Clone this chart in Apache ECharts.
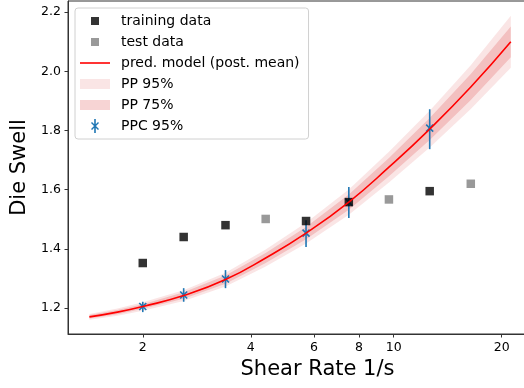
<!DOCTYPE html>
<html>
<head>
<meta charset="utf-8">
<script src="https://cdn.jsdelivr.net/npm/echarts@6/dist/echarts.min.js"></script>
<style>
  html, body { margin: 0; padding: 0; background: #fff; }
  #chart { width: 524px; height: 388px; }
</style>
</head>
<body>
<div id="chart"></div>
<script>
// measured points
const trainRate = [2.0, 2.6, 3.4, 5.7, 7.5, 12.6]
const trainSwell = [1.352, 1.440, 1.480, 1.494, 1.558, 1.595]
const testRate = [4.4, 9.7, 16.4]
const testSwell = [1.501, 1.567, 1.620]

// posterior predictive curve and bands
const curveRate = [1.42, 1.7, 2.0, 2.6, 3.4, 4.4, 5.7, 7.5, 9.7, 12.6, 16.4, 21.2]
const curveMean = [1.170, 1.186, 1.205, 1.242, 1.296, 1.369, 1.453, 1.558, 1.676, 1.805, 1.947, 2.100]
const lo95 = [1.160, 1.174, 1.191, 1.224, 1.273, 1.340, 1.418, 1.515, 1.624, 1.743, 1.873, 2.012]
const hi95 = [1.180, 1.198, 1.219, 1.260, 1.319, 1.398, 1.488, 1.601, 1.728, 1.867, 2.021, 2.188]
const lo75 = [1.164, 1.179, 1.197, 1.231, 1.282, 1.352, 1.432, 1.532, 1.645, 1.768, 1.903, 2.048]
const hi75 = [1.176, 1.193, 1.213, 1.253, 1.310, 1.386, 1.474, 1.584, 1.707, 1.842, 1.991, 2.152]

// posterior predictive checks
const ppcRate = [2.0, 2.6, 3.4, 5.7, 7.5, 12.6]
const ppcMid = [1.205, 1.244, 1.298, 1.453, 1.558, 1.808]
const ppcLo = [1.186, 1.221, 1.267, 1.406, 1.504, 1.737]
const ppcHi = [1.221, 1.267, 1.328, 1.497, 1.609, 1.872]

const xTicks = [2, 4, 6, 8, 10, 20]
const yTicks = [1.2, 1.4, 1.6, 1.8, 2.0, 2.2]

const lg = Math.log10
const font = 'DejaVu Sans'
const col95 = 'rgba(214,39,40,0.12)'
const col75 = 'rgba(214,39,40,0.2)'
const blue = '#1f77b4'

function band(lo, hi, color) {
  return function (params, api) {
    const pts = []
    for (let i = 0; i < curveRate.length; i++) pts.push(api.coord([lg(curveRate[i]), hi[i]]))
    for (let i = curveRate.length - 1; i >= 0; i--) pts.push(api.coord([lg(curveRate[i]), lo[i]]))
    return { type: 'polygon', shape: { points: pts }, style: { fill: color } }
  }
}

function errBar(params, api) {
  const x = api.value(0)
  const c = api.coord([x, api.value(1)])
  const a = api.coord([x, api.value(2)])
  const b = api.coord([x, api.value(3)])
  const s = 3.5
  const st = { stroke: blue, lineWidth: 1.6 }
  return {
    type: 'group',
    children: [
      { type: 'line', shape: { x1: a[0], y1: a[1], x2: b[0], y2: b[1] }, style: st },
      { type: 'line', shape: { x1: c[0] - s, y1: c[1] - s, x2: c[0] + s, y2: c[1] + s }, style: st },
      { type: 'line', shape: { x1: c[0] - s, y1: c[1] + s, x2: c[0] + s, y2: c[1] - s }, style: st }
    ]
  }
}

const chart = echarts.init(document.getElementById('chart'))

chart.setOption({
  animation: false,
  textStyle: { fontFamily: font },
  grid: {
    left: 68, top: 1, right: -43, bottom: 54,
    outerBoundsMode: 'none',
    containLabel: false,
    show: true, borderColor: '#333', borderWidth: 1
  },
  legend: {
    orient: 'vertical',
    left: 75, top: 8,
    padding: [6, 9, 6, 5],
    itemWidth: 36, itemHeight: 14, itemGap: 7,
    borderColor: '#d0d0d0', borderWidth: 1, borderRadius: 3,
    backgroundColor: 'rgba(255,255,255,0.8)',
    selectedMode: false,
    textStyle: { fontFamily: font, fontSize: 14, color: '#000' },
    data: [
      { name: 'training data', icon: 'path://M0,0M36,14M11,3h8v8h-8z', itemStyle: { color: '#000' } },
      { name: 'test data', icon: 'path://M0,0M36,14M11,3h8v8h-8z', itemStyle: { color: '#808080' } },
      { name: 'pred. model (post. mean)', icon: 'path://M0,0M36,14M0,6.2h30v1.6h-30z', itemStyle: { color: 'red' } },
      { name: 'PP 95%', icon: 'path://M0,0M36,14M0,2h30v10h-30z', itemStyle: { color: col95 } },
      { name: 'PP 75%', icon: 'path://M0,0M36,14M0,2h30v10h-30z', itemStyle: { color: col75 } },
      { name: 'PPC 95%', icon: 'path://M0,0M36,14M14.2,0h1.6v14h-1.6zM11,4L12,3L19,10L18,11zM18,3L19,4L12,11L11,10z', itemStyle: { color: blue } }
    ]
  },
  xAxis: {
    type: 'value',
    min: lg(1.238),
    max: lg(30.4),
    name: 'Shear Rate 1/s',
    nameLocation: 'middle',
    nameGap: 25,
    nameTextStyle: { fontFamily: font, fontSize: 21, color: '#000' },
    splitLine: { show: false },
    axisLine: { show: true, lineStyle: { color: '#333', width: 1 } },
    axisTick: { show: true, length: 3.5, customValues: xTicks.map(lg), lineStyle: { color: '#333' } },
    axisLabel: {
      customValues: xTicks.map(lg),
      margin: 7,
      fontFamily: font, fontSize: 12.5, color: '#000',
      formatter: v => String(Math.round(Math.pow(10, v)))
    }
  },
  yAxis: {
    type: 'value',
    min: 1.112,
    max: 2.238,
    name: 'Die Swell',
    nameLocation: 'middle',
    nameGap: 38,
    nameTextStyle: { fontFamily: font, fontSize: 21, color: '#000' },
    splitLine: { show: false },
    axisLine: { show: true, lineStyle: { color: '#333', width: 1 } },
    axisTick: { show: true, length: 3.5, customValues: yTicks, lineStyle: { color: '#333' } },
    axisLabel: {
      customValues: yTicks,
      margin: 7,
      fontFamily: font, fontSize: 12.5, color: '#000',
      formatter: v => v.toFixed(1)
    }
  },
  series: [
    {
      name: 'training data',
      type: 'scatter',
      symbol: 'rect',
      symbolSize: 8.5,
      itemStyle: { color: '#000' },
      data: trainRate.map((r, i) => [lg(r), trainSwell[i]])
    },
    {
      name: 'test data',
      type: 'scatter',
      symbol: 'rect',
      symbolSize: 8.5,
      itemStyle: { color: '#808080' },
      data: testRate.map((r, i) => [lg(r), testSwell[i]])
    },
    {
      name: 'PP 95%',
      type: 'custom',
      itemStyle: { color: col95 },
      renderItem: band(lo95, hi95, col95),
      data: [[lg(curveRate[0]), curveMean[0]]]
    },
    {
      name: 'PP 75%',
      type: 'custom',
      itemStyle: { color: col75 },
      renderItem: band(lo75, hi75, col75),
      data: [[lg(curveRate[0]), curveMean[0]]]
    },
    {
      name: 'pred. model (post. mean)',
      type: 'line',
      smooth: true,
      symbol: 'none',
      itemStyle: { color: 'red' },
      lineStyle: { color: 'red', width: 1.6 },
      data: curveRate.map((r, i) => [lg(r), curveMean[i]])
    },
    {
      name: 'PPC 95%',
      type: 'custom',
      itemStyle: { color: blue },
      renderItem: errBar,
      encode: { x: 0, y: 1 },
      data: ppcRate.map((r, i) => [lg(r), ppcMid[i], ppcLo[i], ppcHi[i]])
    }
  ]
})
</script>
</body>
</html>
